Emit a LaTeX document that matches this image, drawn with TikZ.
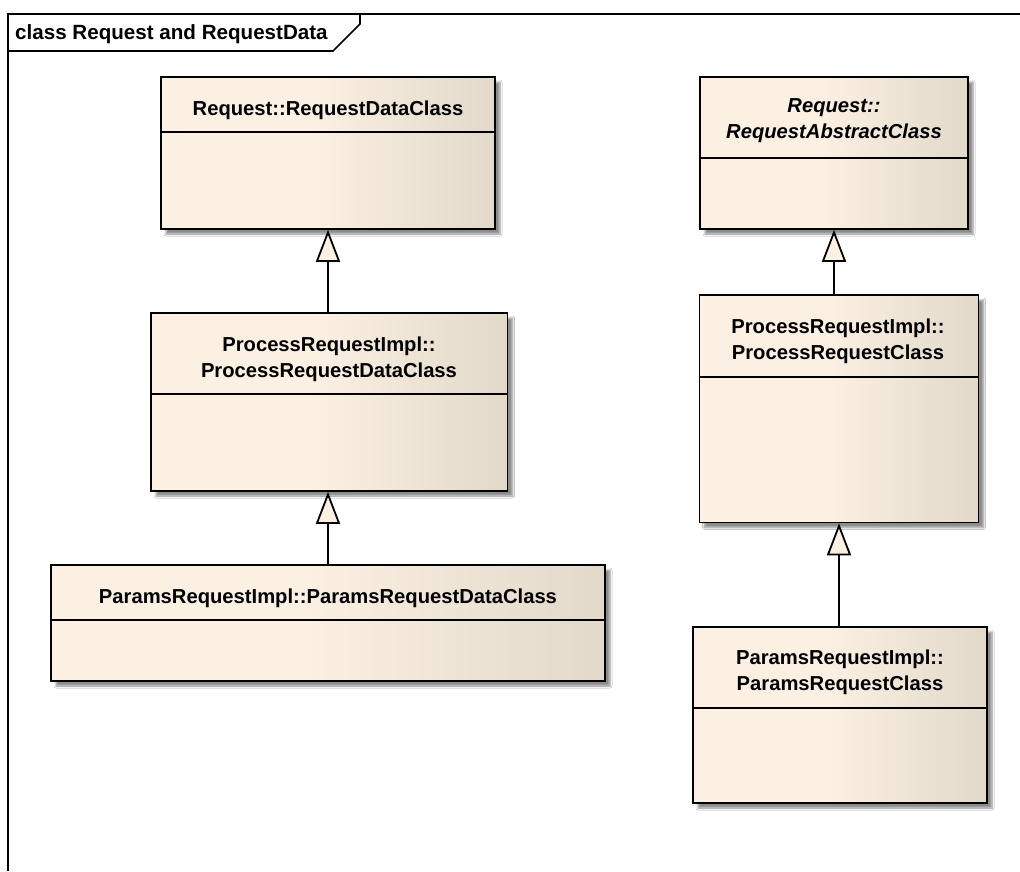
\documentclass[tikz,border=0pt]{standalone}
\usepackage{fontspec}
\setmainfont{Liberation Sans}
\usetikzlibrary{arrows.meta,shadows.blur}

\definecolor{clsLight}{RGB}{251,240,226}
\definecolor{clsDark}{RGB}{226,217,202}

% cream body that darkens towards the right edge
\pgfdeclarehorizontalshading{classfill}{100bp}{%
  color(0bp)=(clsLight); color(25bp)=(clsLight); color(48bp)=(clsLight);
  color(75bp)=(clsDark); color(100bp)=(clsDark)}

\tikzset{
  frameline/.style={line width=1.6pt, black},
  classbox/.style={draw=black, line width=1.6pt, shade, shading=classfill,
    inner sep=0pt,
    blur shadow={shadow xshift=5pt, shadow yshift=-5pt,
      shadow blur radius=2pt, shadow blur steps=6, shadow opacity=45}},
  compart/.style={line width=1.3pt, black},
  clsname/.style={anchor=base, inner sep=0pt,
    font=\fontsize{20.2}{24}\selectfont\bfseries},
  absname/.style={clsname, font=\fontsize{20.2}{24}\selectfont\bfseries\itshape},
  gen/.style={line width=1.8pt, black,
    -{Triangle[width=24pt, length=32pt, fill=clsLight]}},
}

\begin{document}
\begin{tikzpicture}[x=1pt, y=-1pt]
  \path[use as bounding box, fill=white] (0,0) rectangle (1020,871);

  % diagram frame and its title tab
  \draw[frameline] (8,871) -- (8,14) -- (1020,14);
  \draw[frameline] (8,51) -- (333,51) -- (360,24) -- (360,14);
  \node[anchor=base west, inner sep=0pt,
        font=\fontsize{20.6}{24}\selectfont\bfseries] (title) at (15,39)
        {class Request and RequestData};

  % left column: data classes
  \node[classbox, minimum width=334pt, minimum height=152pt] (A) at (328,153) {};
  \draw[compart] (A.west |- 0,132) -- (A.east |- 0,132);
  \node[clsname] (Aname) at (328,115) {Request::RequestDataClass};

  \node[classbox, minimum width=356.5pt, minimum height=178pt] (B) at (329.25,402) {};
  \draw[compart] (B.west |- 0,394) -- (B.east |- 0,394);
  \node[clsname] (Bname1) at (329,351.5) {ProcessRequestImpl::};
  \node[clsname] (Bname2) at (329,377.5) {ProcessRequestDataClass};

  \node[classbox, minimum width=554pt, minimum height=116pt] (C) at (328,623) {};
  \draw[compart] (C.west |- 0,620) -- (C.east |- 0,620);
  \node[clsname] (Cname) at (328,603) {ParamsRequestImpl::ParamsRequestDataClass};

  % right column: request classes
  \node[classbox, minimum width=268pt, minimum height=152pt] (D) at (834,153) {};
  \draw[compart] (D.west |- 0,158) -- (D.east |- 0,158);
  \node[absname] (Dname1) at (834,112) {Request::};
  \node[absname] (Dname2) at (834,138) {RequestAbstractClass};

  \node[classbox, minimum width=279pt, minimum height=227.5pt] (E) at (839,408.75) {};
  \draw[compart] (E.west |- 0,377) -- (E.east |- 0,377);
  \node[clsname] (Ename1) at (838,333) {ProcessRequestImpl::};
  \node[clsname] (Ename2) at (838,359) {ProcessRequestClass};

  \node[classbox, minimum width=294pt, minimum height=176pt] (F) at (840,715) {};
  \draw[compart] (F.west |- 0,708) -- (F.east |- 0,708);
  \node[clsname] (Fname1) at (840,664) {ParamsRequestImpl::};
  \node[clsname] (Fname2) at (840,690.5) {ParamsRequestClass};

  % generalizations
  \draw[gen] (B.north -| A.south) -- (A.south);
  \draw[gen] (C.north -| A.south) -- (A.south |- B.south);
  \draw[gen] (E.north -| D.south) -- (D.south);
  \draw[gen] (F.north -| E.south) -- (E.south);
\end{tikzpicture}
\end{document}
